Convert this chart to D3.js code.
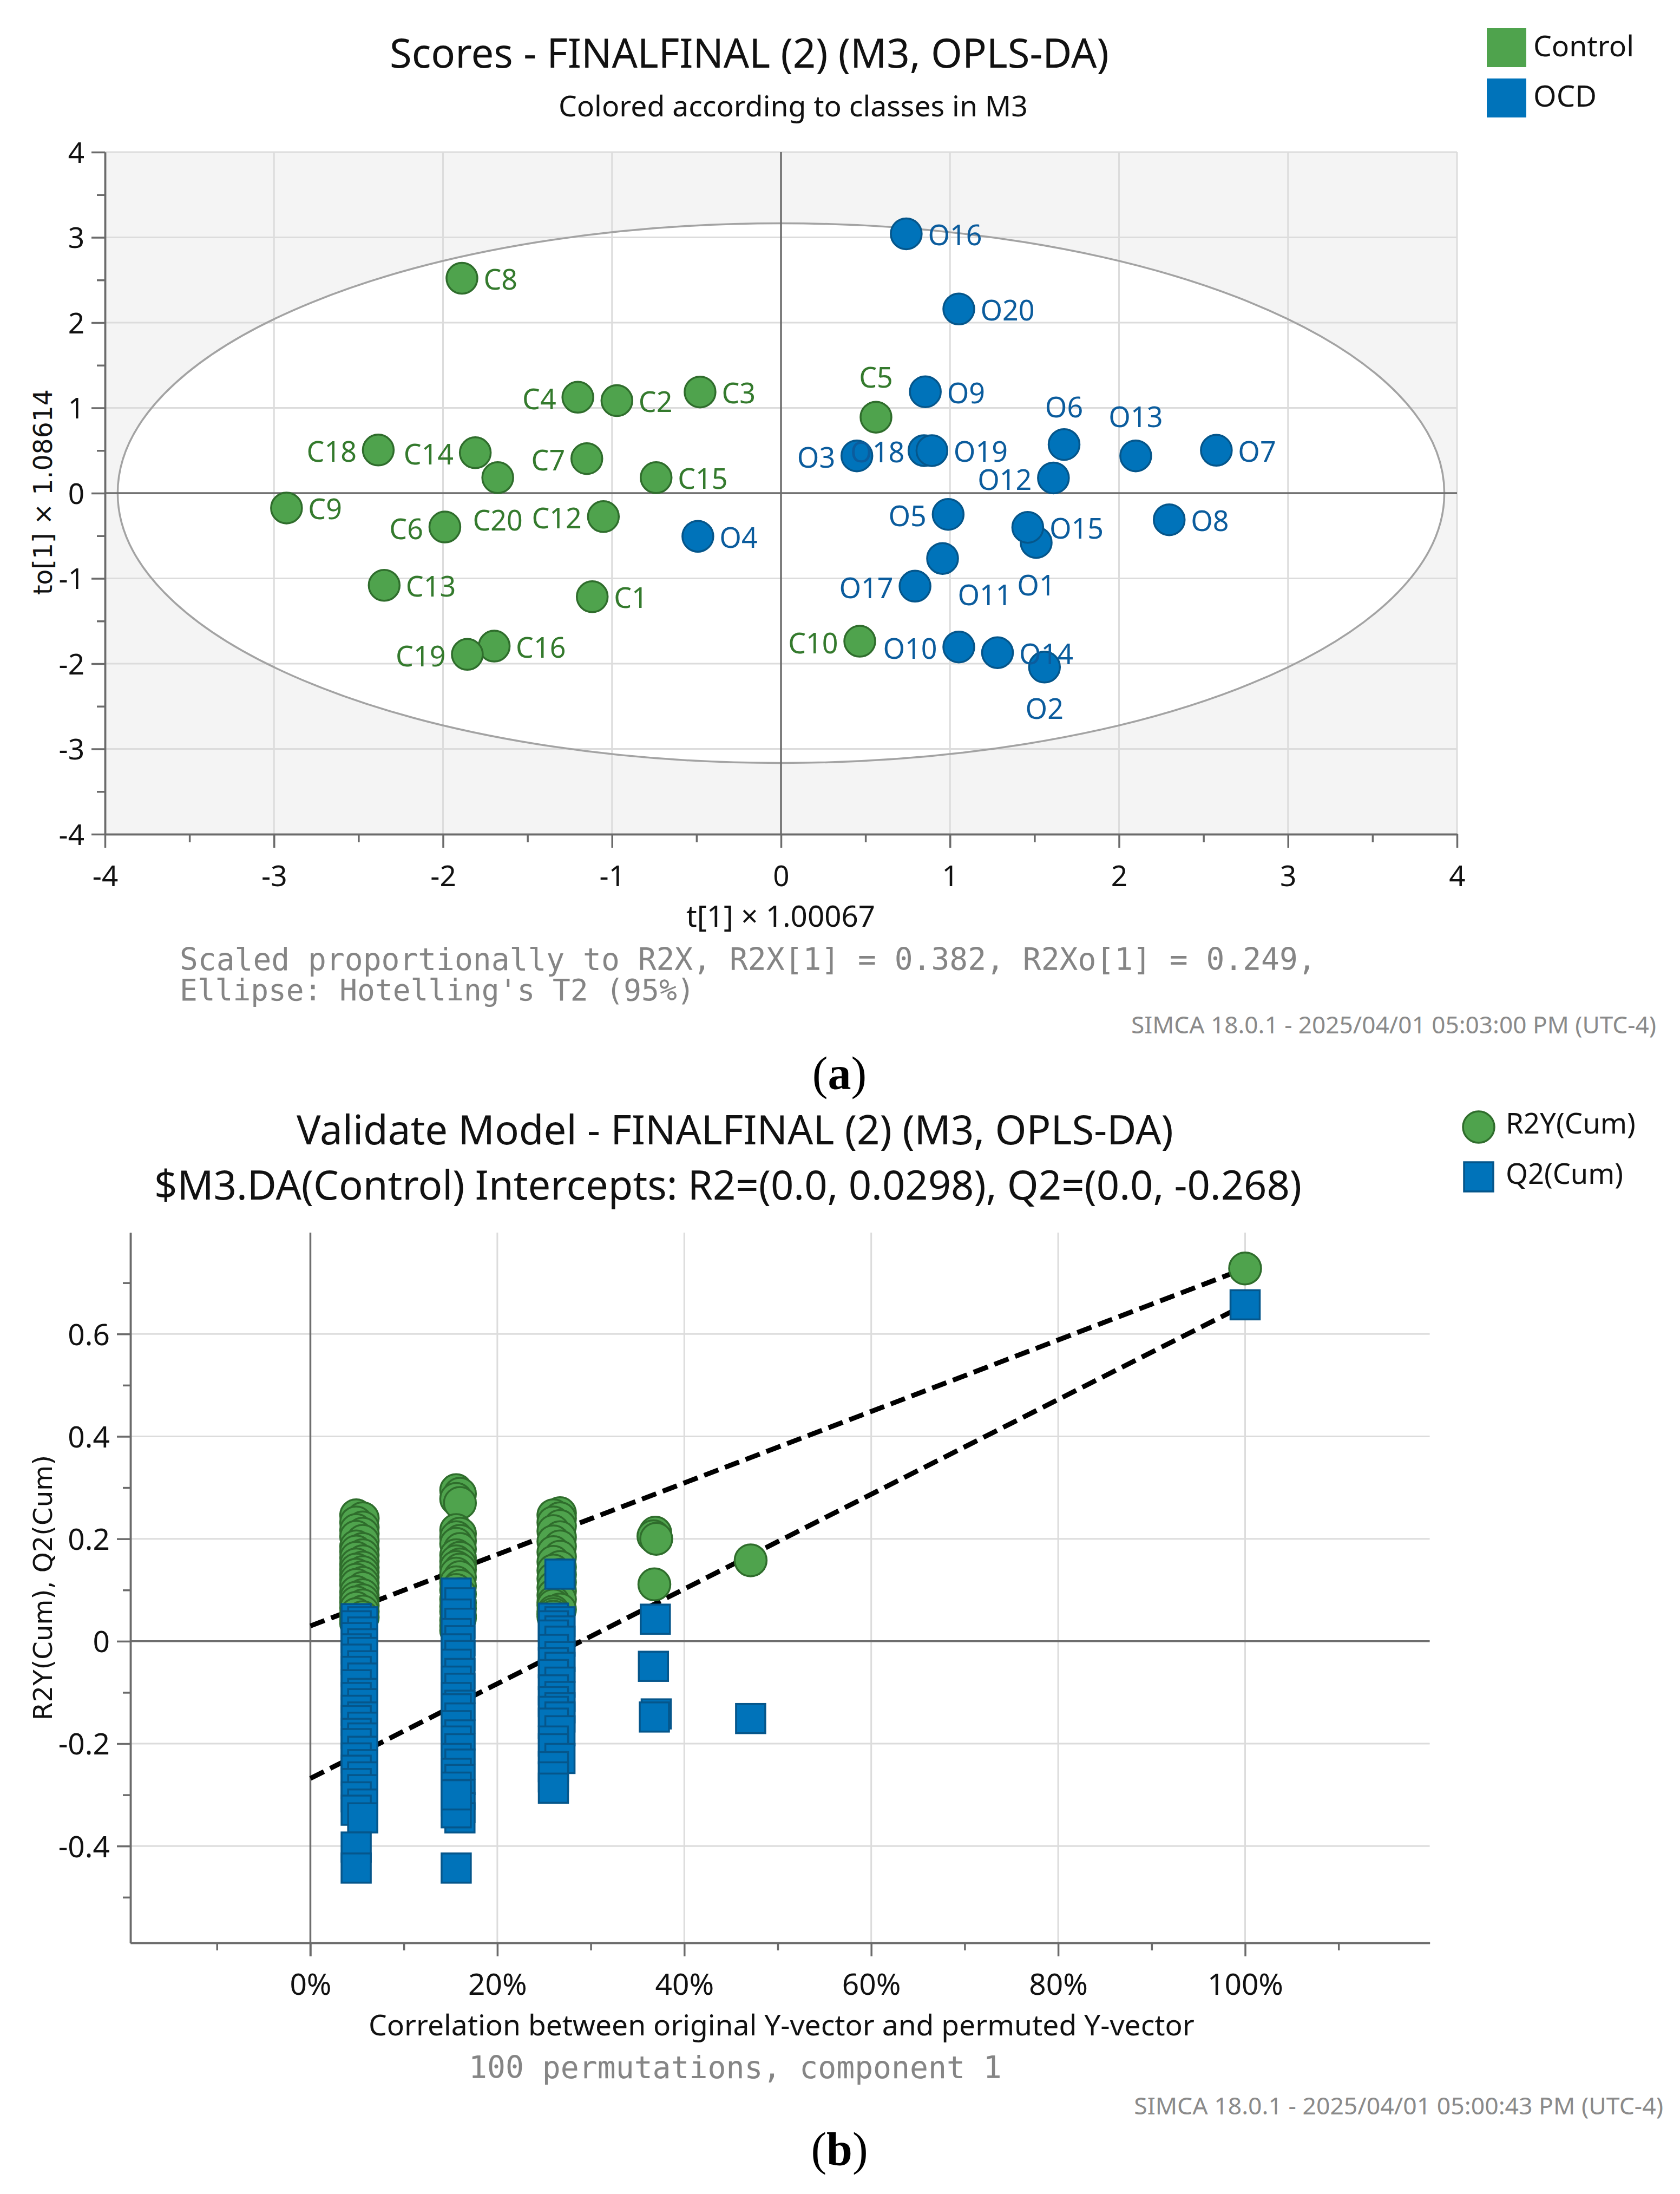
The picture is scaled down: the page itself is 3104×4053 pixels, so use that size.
<!DOCTYPE html>
<html><head><meta charset="utf-8">
<script src="https://cdn.jsdelivr.net/npm/d3@7/dist/d3.min.js"></script>
<style>html,body{margin:0;padding:0;background:#fff}</style>
</head><body>
<svg id="chart" width="3104" height="4053" xmlns="http://www.w3.org/2000/svg"></svg>
<script>
// ---------------- DATA: panel (a) OPLS-DA scores ----------------
const obsIds   = ["C1","C2","C3","C4","C5","C6","C7","C8","C9","C10","C12","C13","C14","C15","C16","C18","C19","C20",
                  "O1","O2","O3","O4","O5","O6","O7","O8","O9","O10","O11","O12","O13","O14","O15","O16","O17","O18","O19","O20"];
const obsClass = ["Control","Control","Control","Control","Control","Control","Control","Control","Control","Control","Control","Control","Control","Control","Control","Control","Control","Control",
                  "OCD","OCD","OCD","OCD","OCD","OCD","OCD","OCD","OCD","OCD","OCD","OCD","OCD","OCD","OCD","OCD","OCD","OCD","OCD","OCD"];
const tScores  = [-1.117,-0.971,-0.479,-1.202,0.562,-1.989,-1.149,-1.888,-2.926,0.466,-1.051,-2.348,-1.809,-0.739,-1.697,-2.383,-1.856,-1.676,
                  1.510,1.559,0.449,-0.492,0.989,1.675,2.576,2.297,0.854,1.052,0.956,1.612,2.099,1.281,1.460,0.741,0.793,0.846,0.893,1.052];
const toScores = [-1.215,1.085,1.186,1.125,0.891,-0.397,0.405,2.520,-0.174,-1.737,-0.275,-1.081,0.474,0.182,-1.794,0.506,-1.891,0.182,
                  -0.579,-2.040,0.437,-0.506,-0.249,0.570,0.503,-0.312,1.189,-1.804,-0.766,0.178,0.437,-1.871,-0.401,3.042,-1.091,0.499,0.499,2.160];
const classNames = ["Control","OCD"];
const ellipseT2 = [3.925, 3.165];          // Hotelling's T2 (95%) semi-axes, t and to units
const scoreTicks = [-4,-3,-2,-1,0,1,2,3,4];
const scoreMinorTicks = [-3.5,-2.5,-1.5,-0.5,0.5,1.5,2.5,3.5];

// ---------------- DATA: panel (b) permutation test ----------------
const permCorr = [
 0.049,0.056,0.049,0.056,0.049,0.056,0.049,0.056,0.049,0.056,0.049,0.056,0.049,0.056,0.049,0.056,0.049,0.056,
 0.049,0.056,0.049,0.056,0.049,0.056,0.049,0.056,0.049,0.056,0.049,0.056,0.049,0.056,0.049,0.056,0.049,0.049,
 0.156,0.160,0.156,0.160,0.156,0.160,0.156,0.160,0.156,0.160,0.156,0.160,0.156,0.160,0.156,0.160,
 0.156,0.160,0.156,0.160,0.156,0.160,0.156,0.160,0.156,0.160,0.156,0.160,0.160,0.156,0.156,0.156,
 0.267,0.260,0.267,0.260,0.267,0.260,0.267,0.260,0.267,0.260,0.267,0.260,0.267,0.260,
 0.267,0.260,0.267,0.260,0.267,0.260,0.267,0.260,0.260,0.267,0.260,0.260,0.260,
 0.369,0.367,0.370,0.368,
 0.471];
const permR2 = [
 0.246,0.240,0.232,0.222,0.217,0.210,0.204,0.196,0.185,0.180,0.175,0.168,0.163,0.156,0.150,0.144,0.140,0.135,
 0.130,0.125,0.120,0.114,0.110,0.104,0.096,0.090,0.085,0.080,0.076,0.070,0.065,0.058,0.053,0.047,0.041,0.035,
 0.295,0.288,0.278,0.270,0.217,0.210,0.203,0.196,0.190,0.180,0.168,0.163,0.156,0.150,0.145,0.140,
 0.132,0.125,0.115,0.108,0.100,0.092,0.082,0.075,0.068,0.064,0.058,0.050,0.045,0.041,0.030,0.021,
 0.250,0.246,0.240,0.232,0.225,0.215,0.203,0.195,0.185,0.174,0.165,0.155,0.145,0.138,
 0.130,0.122,0.115,0.105,0.098,0.090,0.082,0.076,0.070,0.062,0.058,0.053,0.048,
 0.212,0.205,0.200,0.111,
 0.158];
const permQ2 = [
 0.044,0.038,0.030,0.018,0.007,-0.005,-0.015,-0.022,-0.035,-0.048,-0.059,-0.072,-0.085,-0.102,-0.110,-0.122,-0.135,-0.148,
 -0.155,-0.168,-0.180,-0.189,-0.200,-0.215,-0.228,-0.241,-0.252,-0.265,-0.278,-0.290,-0.304,-0.318,-0.330,-0.345,-0.402,-0.443,
 0.094,0.075,0.053,0.035,0.015,0.001,-0.015,-0.028,-0.045,-0.063,-0.078,-0.092,-0.110,-0.125,-0.132,-0.150,
 -0.165,-0.183,-0.195,-0.210,-0.229,-0.240,-0.258,-0.270,-0.285,-0.299,-0.312,-0.325,-0.345,-0.335,-0.300,-0.443,
 0.131,0.045,0.038,0.030,0.020,0.012,0.000,-0.016,-0.030,-0.042,-0.051,-0.065,-0.080,-0.095,
 -0.108,-0.118,-0.130,-0.137,-0.148,-0.160,-0.175,-0.195,-0.210,-0.229,-0.245,-0.265,-0.287,
 0.043,-0.049,-0.142,-0.148,
 -0.151];
const originalModel = {corr: 1.0, r2: 0.728, q2: 0.657};
const interceptR2 = 0.0298;
const interceptQ2 = -0.268;
const corrTicks = [0,0.2,0.4,0.6,0.8,1.0];
const corrMinorTicks = [-0.1,0.1,0.3,0.5,0.7,0.9,1.1];
const valTicks = [-0.4,-0.2,0,0.2,0.4,0.6];
const valMinorTicks = [-0.5,-0.3,-0.1,0.1,0.3,0.5,0.7];
const seriesNames = ["R2Y(Cum)","Q2(Cum)"];

// ---------------- STYLE ----------------
const SANS = "'Noto Sans','Open Sans',sans-serif";
const VERA = "'DejaVu Sans',sans-serif";
const MONO = "'DejaVu Sans Mono','Liberation Mono',monospace";
const SERIF = "'Liberation Serif','DejaVu Serif',serif";
const GREEN = "#4fa34d", GREEN_S = "#2f6d2c", GREEN_T = "#347a2d";
const BLUE = "#0073ba", BLUE_S = "#05568b", BLUE_T = "#0b5c9d";
const GRID = "#dcdcdc", AXIS = "#6b6b6b", ZERO = "#6e6e6e";

const svg = d3.select("#chart");
svg.append("rect").attr("width",3104).attr("height",4053).attr("fill","#fff");

function fitText(sel, width){
  const n = sel.node(); const len = n.getComputedTextLength();
  const fs = parseFloat(sel.attr("font-size"));
  if (len > 0) sel.attr("font-size", (fs*width/len).toFixed(2));
  return sel;
}
function txt(x,y,s,opt){
  const t = svg.append("text").attr("x",x).attr("y",y).text(s)
    .attr("font-family",opt.font||SANS).attr("font-size",opt.size||50)
    .attr("fill",opt.fill||"#111").attr("text-anchor",opt.anchor||"start");
  if (opt.weight) t.attr("font-weight",opt.weight);
  if (opt.rotate) t.attr("transform",`rotate(${opt.rotate},${x},${y})`);
  if (opt.width) fitText(t,opt.width);
  return t;
}
function panelTag(x,y,letter){
  const t = svg.append("text").attr("x",x).attr("y",y).attr("text-anchor","middle")
    .attr("font-family",SERIF).attr("font-size",86).attr("fill","#000");
  t.append("tspan").text("(");
  t.append("tspan").attr("font-weight","bold").text(letter);
  t.append("tspan").text(")");
}

// ================= PANEL (a) =================
const xA = d3.scaleLinear().domain([-4,4]).range([194,2692]);
const yA = d3.scaleLinear().domain([-4,4]).range([1541,281]);
const gA = svg.append("g");

gA.append("rect").attr("x",xA(-4)).attr("y",yA(4)).attr("width",xA(4)-xA(-4)).attr("height",yA(-4)-yA(4)).attr("fill","#f4f4f4");
gA.append("ellipse").attr("cx",xA(0)).attr("cy",yA(0))
  .attr("rx",xA(ellipseT2[0])-xA(0)).attr("ry",yA(0)-yA(ellipseT2[1])).attr("fill","#fff");
gA.selectAll("line.gx").data(scoreTicks.filter(d=>d!==0 && d!==-4)).join("line")
  .attr("x1",d=>xA(d)).attr("x2",d=>xA(d)).attr("y1",yA(4)).attr("y2",yA(-4)).attr("stroke",GRID).attr("stroke-width",3);
gA.selectAll("line.gy").data(scoreTicks.filter(d=>d!==0 && d!==-4)).join("line")
  .attr("x1",xA(-4)).attr("x2",xA(4)).attr("y1",d=>yA(d)).attr("y2",d=>yA(d)).attr("stroke",GRID).attr("stroke-width",3);
gA.append("ellipse").attr("cx",xA(0)).attr("cy",yA(0))
  .attr("rx",xA(ellipseT2[0])-xA(0)).attr("ry",yA(0)-yA(ellipseT2[1]))
  .attr("fill","none").attr("stroke","#a3a3a3").attr("stroke-width",3.5);
gA.append("line").attr("x1",xA(0)).attr("x2",xA(0)).attr("y1",yA(4)).attr("y2",yA(-4)).attr("stroke",ZERO).attr("stroke-width",3.5);
gA.append("line").attr("x1",xA(-4)).attr("x2",xA(4)).attr("y1",yA(0)).attr("y2",yA(0)).attr("stroke",ZERO).attr("stroke-width",3.5);

function styleAxis(g, fs){
  g.select(".domain").attr("stroke",AXIS).attr("stroke-width",3.5);
  g.selectAll(".tick line").attr("stroke",AXIS).attr("stroke-width",3.5);
  g.selectAll(".tick text").attr("font-family",SANS).attr("font-size",fs).attr("fill","#111");
}
const axA_xMin = gA.append("g").attr("transform",`translate(0,${yA(-4)})`)
  .call(d3.axisBottom(xA).tickValues(scoreMinorTicks).tickSize(15).tickSizeOuter(0).tickFormat(""));
styleAxis(axA_xMin,53);
const axA_x = gA.append("g").attr("transform",`translate(0,${yA(-4)})`)
  .call(d3.axisBottom(xA).tickValues(scoreTicks).tickSize(25).tickSizeOuter(0).tickFormat(d=>String(d)));
styleAxis(axA_x,53);
const axA_yMin = gA.append("g").attr("transform",`translate(${xA(-4)},0)`)
  .call(d3.axisLeft(yA).tickValues(scoreMinorTicks).tickSize(15).tickSizeOuter(0).tickFormat(""));
styleAxis(axA_yMin,53);
const axA_y = gA.append("g").attr("transform",`translate(${xA(-4)},0)`)
  .call(d3.axisLeft(yA).tickValues(scoreTicks).tickSize(25).tickSizeOuter(0).tickPadding(13).tickFormat(d=>String(d)));
styleAxis(axA_y,53);
axA_x.selectAll(".tick text").attr("dy",null).attr("y",96);
axA_y.selectAll(".tick text").attr("dy","0.36em");

const obs = obsIds.map((id,i)=>({id, cls:obsClass[i], t:tScores[i], to:toScores[i]}));
gA.selectAll("circle.obs").data(obs).join("circle")
  .attr("cx",d=>xA(d.t)).attr("cy",d=>yA(d.to)).attr("r",28.5)
  .attr("fill",d=>d.cls==="Control"?GREEN:BLUE)
  .attr("stroke",d=>d.cls==="Control"?GREEN_S:BLUE_S).attr("stroke-width",3.5);
// label placement (layout only)
const LEFT = {a:"end",dx:-40,dy:22}, ABOVE={a:"middle",dx:0,dy:-53};
const labelPlace = {C4:LEFT,C18:LEFT,C14:LEFT,C7:LEFT,C6:LEFT,C12:LEFT,C19:LEFT,O3:LEFT,O12:LEFT,O5:LEFT,O17:LEFT,C10:LEFT,O10:LEFT,
  O18:{a:"end",dx:-36,dy:22}, C5:{a:"middle",dx:0,dy:-55}, O6:{a:"middle",dx:0,dy:-50}, O13:ABOVE,
  C20:{a:"middle",dx:0,dy:98}, O1:{a:"middle",dx:0,dy:98}, O2:{a:"middle",dx:0,dy:96}, O11:{a:"start",dx:28,dy:86}};
const DEF = {a:"start",dx:40,dy:21};
gA.selectAll("text.lab").data(obs).join("text")
  .attr("x",d=>xA(d.t)+(labelPlace[d.id]||DEF).dx).attr("y",d=>yA(d.to)+(labelPlace[d.id]||DEF).dy)
  .attr("text-anchor",d=>(labelPlace[d.id]||DEF).a)
  .attr("font-family",SANS).attr("font-size",52)
  .attr("fill",d=>d.cls==="Control"?GREEN_T:BLUE_T).text(d=>d.id);

txt(720,125,"Scores - FINALFINAL (2) (M3, OPLS-DA)",{size:72,width:1329,fill:"#111"});
txt(1032,215,"Colored according to classes in M3",{size:55,width:867,fill:"#111"});
txt(1268,1712,"t[1] × 1.00067",{size:54,width:349,fill:"#111"});
txt(96,909,"to[1] × 1.08614",{font:VERA,size:47,width:380,anchor:"middle",rotate:-90,fill:"#111"});
txt(332,1792,"Scaled proportionally to R2X, R2X[1] = 0.382, R2Xo[1] = 0.249,",{font:MONO,size:54,width:2100,fill:"#858585"});
txt(332,1848,"Ellipse: Hotelling's T2 (95%)",{font:MONO,size:54,width:2100*29/64,fill:"#858585"});
txt(3060,1909,"SIMCA 18.0.1 - 2025/04/01 05:03:00 PM (UTC-4)",{size:44,width:970,anchor:"end",fill:"#8a8a8a"});
panelTag(1551,2012,"a");
const legColors = [GREEN,BLUE];
classNames.forEach((c,i)=>{
  svg.append("rect").attr("x",2747).attr("y",52+i*93).attr("width",73).attr("height",72).attr("fill",legColors[i]);
  txt(2833,104+i*93,c,{size:52,width:i===0?186:117,fill:"#111"});
});

// ================= PANEL (b) =================
const xB = d3.scaleLinear().domain([-0.1925,1.1975]).range([241,2641.6]);
const yB = d3.scaleLinear().domain([-0.589,0.798]).range([3589,2277]);
const gB = svg.append("g");
gB.selectAll("line.gx").data(corrTicks.filter(d=>d!==0)).join("line")
  .attr("x1",d=>xB(d)).attr("x2",d=>xB(d)).attr("y1",yB(0.798)).attr("y2",yB(-0.589)).attr("stroke",GRID).attr("stroke-width",3);
gB.selectAll("line.gy").data(valTicks.filter(d=>d!==0)).join("line")
  .attr("x1",xB(-0.1925)).attr("x2",xB(1.1975)).attr("y1",d=>yB(d)).attr("y2",d=>yB(d)).attr("stroke",GRID).attr("stroke-width",3);
gB.append("line").attr("x1",xB(0)).attr("x2",xB(0)).attr("y1",yB(0.798)).attr("y2",yB(-0.589)+25).attr("stroke",ZERO).attr("stroke-width",3.5);
gB.append("line").attr("x1",xB(-0.1925)).attr("x2",xB(1.1975)).attr("y1",yB(0)).attr("y2",yB(0)).attr("stroke",ZERO).attr("stroke-width",3.5);

const axB_xMin = gB.append("g").attr("transform",`translate(0,${yB(-0.589)})`)
  .call(d3.axisBottom(xB).tickValues(corrMinorTicks).tickSize(14).tickSizeOuter(0).tickFormat(""));
styleAxis(axB_xMin,55);
const axB_x = gB.append("g").attr("transform",`translate(0,${yB(-0.589)})`)
  .call(d3.axisBottom(xB).tickValues(corrTicks).tickSize(25).tickSizeOuter(0).tickFormat(d=>Math.round(d*100)+"%"));
styleAxis(axB_x,55);
axB_x.selectAll(".tick text").attr("dy",null).attr("y",96);
const axB_yMin = gB.append("g").attr("transform",`translate(${xB(-0.1925)},0)`)
  .call(d3.axisLeft(yB).tickValues(valMinorTicks).tickSize(14).tickSizeOuter(0).tickFormat(""));
styleAxis(axB_yMin,55);
const axB_y = gB.append("g").attr("transform",`translate(${xB(-0.1925)},0)`)
  .call(d3.axisLeft(yB).tickValues(valTicks).tickSize(25).tickSizeOuter(0).tickPadding(13).tickFormat(d=>d===0?"0":d.toFixed(1)));
styleAxis(axB_y,55);
axB_y.selectAll(".tick text").attr("dy","0.36em");

const line = d3.line().x(d=>xB(d[0])).y(d=>yB(d[1]));
[[ [0,interceptR2],[originalModel.corr,originalModel.r2] ],
 [ [0,interceptQ2],[originalModel.corr,originalModel.q2] ]].forEach(seg=>{
  gB.append("path").attr("d",line(seg)).attr("fill","none").attr("stroke","#000")
    .attr("stroke-width",9).attr("stroke-dasharray","28,13");
});
const perms = permCorr.map((c,i)=>({c, r2:permR2[i], q2:permQ2[i]}));
perms.push({c:originalModel.corr, r2:originalModel.r2, q2:originalModel.q2});
gB.selectAll("circle.r2").data(perms).join("circle")
  .attr("cx",d=>xB(d.c)).attr("cy",d=>yB(d.r2)).attr("r",29.5)
  .attr("fill",GREEN).attr("stroke",GREEN_S).attr("stroke-width",3.5);
gB.selectAll("rect.q2").data(perms).join("rect")
  .attr("x",d=>xB(d.c)-27).attr("y",d=>yB(d.q2)-27).attr("width",54).attr("height",54)
  .attr("fill",BLUE).attr("stroke",BLUE_S).attr("stroke-width",3.5);

txt(548,2114,"Validate Model - FINALFINAL (2) (M3, OPLS-DA)",{size:75,width:1620,fill:"#111"});
txt(285,2216,"$M3.DA(Control) Intercepts: R2=(0.0, 0.0298), Q2=(0.0, -0.268)",{size:75,width:2120,fill:"#111"});
txt(96,2933,"R2Y(Cum), Q2(Cum)",{font:VERA,size:48,width:490,anchor:"middle",rotate:-90,fill:"#111"});
txt(681,3760,"Correlation between original Y-vector and permuted Y-vector",{size:55,width:1526,fill:"#111"});
txt(866,3839,"100 permutations, component 1",{font:MONO,size:56,width:985,fill:"#858585"});
txt(3073,3906,"SIMCA 18.0.1 - 2025/04/01 05:00:43 PM (UTC-4)",{size:44,width:978,anchor:"end",fill:"#8a8a8a"});
panelTag(1551,3999,"b");
svg.append("circle").attr("cx",2732).attr("cy",2082).attr("r",29).attr("fill",GREEN).attr("stroke",GREEN_S).attr("stroke-width",3.5);
txt(2782,2094,seriesNames[0],{size:52,width:240,fill:"#111"});
svg.append("rect").attr("x",2705).attr("y",2147).attr("width",54).attr("height",54).attr("fill",BLUE).attr("stroke",BLUE_S).attr("stroke-width",3.5);
txt(2782,2187,seriesNames[1],{size:52,width:217,fill:"#111"});
</script>
</body></html>
